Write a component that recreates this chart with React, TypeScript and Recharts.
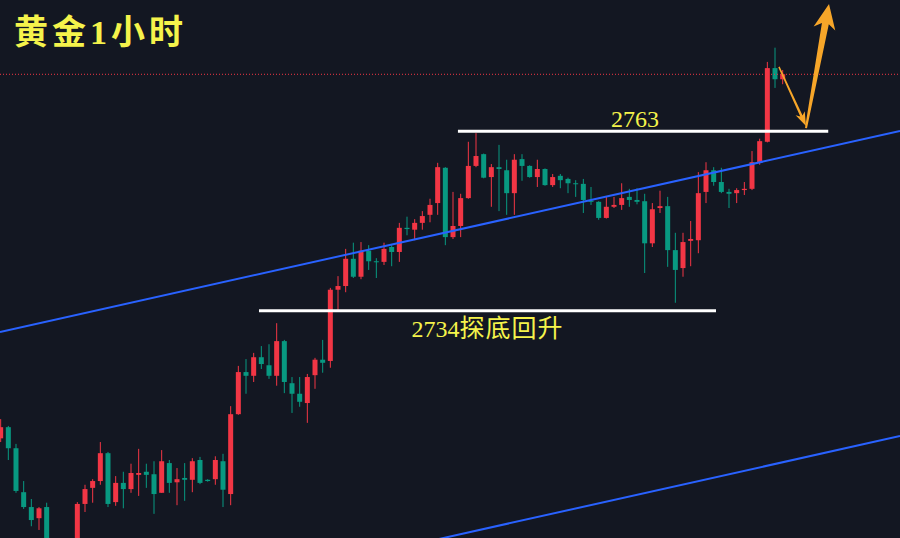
import { ComposedChart, Bar, XAxis, YAxis, ReferenceLine } from 'recharts';

// hourly gold candles (red = up, green = down)
const opens = [
  2713.4, 2715.2, 2711.8, 2704.7, 2702.3, 2700.5, 2702.3, 2696.0, 2693.5, 2695.0,
  2696.0, 2702.8, 2705.4, 2706.5, 2711.0, 2703.1, 2706.2, 2705.2, 2707.5, 2708.0,
  2707.6, 2704.6, 2709.4, 2706.3, 2707.0, 2706.7, 2709.9, 2706.7, 2706.8, 2709.7,
  2704.4, 2717.3, 2724.1, 2723.5, 2726.5, 2725.2, 2723.5, 2729.1, 2722.3, 2720.6,
  2719.1, 2723.6, 2726.1, 2725.9, 2737.4, 2738.0, 2742.4, 2739.5, 2743.7, 2742.0,
  2741.9, 2744.3, 2743.5, 2747.4, 2747.1, 2748.2, 2749.5, 2751.4, 2757.1, 2745.9,
  2747.7, 2752.2, 2757.4, 2759.3, 2755.6, 2757.2, 2756.7, 2753.0, 2758.5, 2757.4,
  2755.6, 2756.9, 2754.3, 2755.8, 2755.3, 2754.6, 2754.5, 2751.8, 2751.6, 2749.0,
  2750.8, 2751.1, 2752.4, 2751.9, 2751.7, 2744.9, 2750.6, 2750.9, 2743.8, 2740.9,
  2745.3, 2745.4, 2753.2, 2756.7, 2754.8, 2753.2, 2753.0, 2753.5, 2753.7, 2758.0,
  2761.3, 2773.2, 2771.4,
];
const highs = [
  2716.5, 2715.4, 2712.5, 2706.5, 2703.6, 2702.3, 2703.0, 2696.5, 2695.8, 2697.0,
  2703.1, 2705.9, 2706.8, 2712.8, 2711.2, 2707.3, 2708.0, 2709.3, 2711.7, 2709.3,
  2709.7, 2711.5, 2709.9, 2708.6, 2709.4, 2710.2, 2710.4, 2706.8, 2710.5, 2710.9,
  2718.6, 2725.1, 2726.2, 2727.2, 2728.3, 2728.6, 2732.0, 2729.3, 2723.3, 2723.3,
  2723.8, 2726.4, 2729.3, 2737.7, 2739.6, 2744.0, 2745.0, 2745.1, 2744.6, 2742.5,
  2745.0, 2744.6, 2748.2, 2749.2, 2748.8, 2750.1, 2752.1, 2757.9, 2757.2, 2753.2,
  2752.9, 2761.3, 2762.7, 2759.4, 2757.7, 2760.8, 2758.4, 2759.3, 2759.3, 2757.5,
  2758.4, 2757.0, 2756.1, 2756.1, 2755.5, 2755.1, 2755.3, 2754.0, 2751.7, 2752.5,
  2752.4, 2754.6, 2753.7, 2753.8, 2752.9, 2751.4, 2753.4, 2752.4, 2746.6, 2746.6,
  2748.5, 2756.4, 2758.0, 2757.2, 2757.1, 2753.7, 2753.8, 2754.8, 2759.8, 2761.8,
  2774.2, 2776.5, 2772.9,
];
const lows = [
  2712.8, 2709.9, 2704.6, 2702.0, 2699.2, 2698.6, 2695.0, 2692.8, 2692.5, 2694.2,
  2695.0, 2701.5, 2703.0, 2705.9, 2702.3, 2702.5, 2702.1, 2704.6, 2704.1, 2705.4,
  2701.2, 2704.6, 2704.6, 2702.6, 2703.3, 2704.7, 2706.0, 2706.4, 2705.9, 2702.3,
  2702.6, 2717.2, 2720.6, 2722.5, 2724.6, 2723.0, 2721.9, 2720.7, 2717.5, 2718.5,
  2715.9, 2721.4, 2724.0, 2724.8, 2734.1, 2737.0, 2739.3, 2739.1, 2740.6, 2739.3,
  2741.4, 2741.2, 2741.9, 2746.2, 2745.4, 2747.1, 2748.3, 2749.5, 2744.6, 2745.6,
  2745.9, 2752.1, 2757.2, 2755.4, 2750.8, 2750.1, 2749.5, 2749.5, 2755.0, 2755.5,
  2754.0, 2754.2, 2754.0, 2753.8, 2753.0, 2752.4, 2749.8, 2751.1, 2748.7, 2748.9,
  2750.6, 2750.3, 2750.8, 2751.2, 2740.1, 2744.3, 2749.8, 2741.1, 2735.3, 2739.5,
  2741.2, 2743.3, 2751.4, 2754.2, 2753.0, 2750.6, 2751.4, 2752.7, 2753.5, 2757.6,
  2761.2, 2770.0, 2770.6,
];
const closes = [
  2715.2, 2711.8, 2704.9, 2702.3, 2700.2, 2702.1, 2696.0, 2693.5, 2695.0, 2696.5,
  2702.8, 2705.2, 2706.5, 2711.0, 2702.8, 2706.2, 2705.2, 2707.8, 2707.8, 2707.5,
  2704.4, 2709.7, 2706.2, 2706.8, 2706.7, 2709.7, 2706.2, 2706.5, 2709.9, 2705.1,
  2717.3, 2724.1, 2723.5, 2726.5, 2725.4, 2723.5, 2729.1, 2722.5, 2720.6, 2719.3,
  2723.3, 2726.1, 2725.6, 2737.4, 2738.0, 2742.4, 2739.5, 2743.7, 2742.0, 2741.9,
  2744.0, 2743.5, 2747.4, 2747.2, 2748.2, 2749.3, 2751.1, 2757.2, 2745.9, 2747.7,
  2752.2, 2757.4, 2759.0, 2755.5, 2757.2, 2756.9, 2753.0, 2758.4, 2757.4, 2755.6,
  2756.9, 2754.3, 2755.6, 2755.1, 2754.6, 2754.5, 2751.9, 2751.6, 2749.0, 2750.8,
  2751.1, 2752.2, 2751.9, 2751.6, 2744.9, 2750.4, 2750.9, 2743.8, 2740.6, 2745.1,
  2745.6, 2753.0, 2756.7, 2754.8, 2753.2, 2752.9, 2753.5, 2753.7, 2758.0, 2761.4,
  2773.2, 2771.4, 2772.2,
];

const lastPrice = 2772.2;
const resistance = 2763;
const support = 2734;
const resistanceSpan = [59.6, 107.9];
const supportSpan = [33.65, 93.26];
// channel lines and forecast arrows as [bar index, price]
const upperChannel = [[-0.13, 2730.57], [117.26, 2763.04]];
const lowerChannel = [[-0.13, 2681.3], [117.26, 2713.77]];
const dropArrow = [[101.47, 2773.4], [105.0, 2763.85]];
const riseArrow = [[105.0, 2763.5], [108.0, 2783.55]];

const X_DOMAIN = [-0.13, 117.26];
const Y_DOMAIN = [2697.3, 2784.2];

const RED = '#f23645';
const GREEN = '#089981';
const BLUE = '#2962ff';
const YELLOW = '#f5f34b';
const ORANGE = '#f7a629';
const BG = '#131722';

const data = opens.map((open, i) => ({
  i,
  open,
  close: closes[i],
  high: highs[i],
  low: lows[i],
  range: [lows[i], highs[i]],
}));

const Candle = (props: any) => {
  const { x, y, width, height, payload } = props;
  const { open, close, high, low } = payload;
  const color = close >= open ? RED : GREEN;
  const top = Math.min(y, y + height);
  const bot = Math.max(y, y + height);
  const span = high - low || 1;
  const py = (v: number) => top + ((high - v) / span) * (bot - top);
  const bTop = py(Math.max(open, close));
  const bBot = py(Math.min(open, close));
  const cx = x + width / 2;
  return (
    <g>
      <rect x={cx - 0.5} y={top} width={1} height={bot - top} fill={color} />
      <rect x={x} y={bTop} width={width} height={Math.max(1, bBot - bTop)} fill={color} />
    </g>
  );
};

// tapered shaft + barbed head, drawn along the segment
const arrow = (w0: number, w1: number, headLen: number, headW: number, notch: number) => (p: any) => {
  const { x1, y1, x2, y2 } = p;
  const dx = x2 - x1;
  const dy = y2 - y1;
  const len = Math.hypot(dx, dy) || 1;
  const ux = dx / len;
  const uy = dy / len;
  const nx = -uy;
  const ny = ux;
  const bx = x2 - ux * headLen;
  const by = y2 - uy * headLen;
  const wx = bx - ux * notch;
  const wy = by - uy * notch;
  const pts = [
    [x1 + (nx * w0) / 2, y1 + (ny * w0) / 2],
    [bx + (nx * w1) / 2, by + (ny * w1) / 2],
    [wx + (nx * headW) / 2, wy + (ny * headW) / 2],
    [x2, y2],
    [wx - (nx * headW) / 2, wy - (ny * headW) / 2],
    [bx - (nx * w1) / 2, by - (ny * w1) / 2],
    [x1 - (nx * w0) / 2, y1 - (ny * w0) / 2],
  ];
  return <polygon points={pts.map((q) => q.join(',')).join(' ')} fill={ORANGE} />;
};

const labelFont = '"Liberation Serif", "Noto Sans CJK SC", serif';

const resistanceShape = (p: any) => (
  <g>
    <line x1={p.x1} y1={p.y1} x2={p.x2} y2={p.y2} stroke="#ffffff" strokeWidth={3} />
    <text x={(p.x1 + p.x2) / 2 - 8} y={p.y1 - 4} textAnchor="middle" fill={YELLOW} fontSize={24} fontFamily={labelFont}>
      {String(resistance)}
    </text>
  </g>
);

const supportShape = (p: any) => (
  <g>
    <line x1={p.x1} y1={p.y1} x2={p.x2} y2={p.y2} stroke="#ffffff" strokeWidth={3} />
    <text x={(p.x1 + p.x2) / 2} y={p.y1 + 26} textAnchor="middle" fill={YELLOW} fontSize={24} fontFamily={labelFont}>
      {String(support)}
      <tspan fontSize={25} letterSpacing={1}>探底回升</tspan>
    </text>
  </g>
);

const seg = (pts: number[][]) => pts.map(([x, y]) => ({ x, y }));

export default function App() {
  return (
    <div style={{ position: 'absolute', left: 0, top: 0, width: 900, height: 538, background: BG, overflow: 'hidden' }}>
      <ComposedChart width={900} height={538} data={data} margin={{ top: 0, right: 0, bottom: 0, left: 0 }}>
        <XAxis dataKey="i" type="number" domain={X_DOMAIN} allowDataOverflow hide />
        <YAxis type="number" domain={Y_DOMAIN} allowDataOverflow hide />
        <ReferenceLine y={lastPrice} stroke={RED} strokeDasharray="1 2" strokeWidth={1} />
        <Bar dataKey="range" barSize={5} shape={<Candle />} isAnimationActive={false} />
        <ReferenceLine segment={seg(upperChannel)} stroke={BLUE} strokeWidth={2} ifOverflow="visible" />
        <ReferenceLine segment={seg(lowerChannel)} stroke={BLUE} strokeWidth={2} ifOverflow="visible" />
        <ReferenceLine
          segment={[{ x: resistanceSpan[0], y: resistance }, { x: resistanceSpan[1], y: resistance }]}
          ifOverflow="visible"
          shape={resistanceShape}
        />
        <ReferenceLine
          segment={[{ x: supportSpan[0], y: support }, { x: supportSpan[1], y: support }]}
          ifOverflow="visible"
          shape={supportShape}
        />
        <ReferenceLine segment={seg(dropArrow)} ifOverflow="visible" shape={arrow(1.5, 2.5, 11, 10, 3)} />
        <ReferenceLine segment={seg(riseArrow)} ifOverflow="visible" shape={arrow(2, 7, 20, 22, 5)} />
      </ComposedChart>
      <div
        style={{
          position: 'absolute',
          left: 14,
          top: 16,
          fontSize: 34,
          lineHeight: '34px',
          fontWeight: 700,
          letterSpacing: 4,
          color: YELLOW,
          fontFamily: labelFont,
          whiteSpace: 'nowrap',
        }}
      >
        黄金1小时
      </div>
    </div>
  );
}
